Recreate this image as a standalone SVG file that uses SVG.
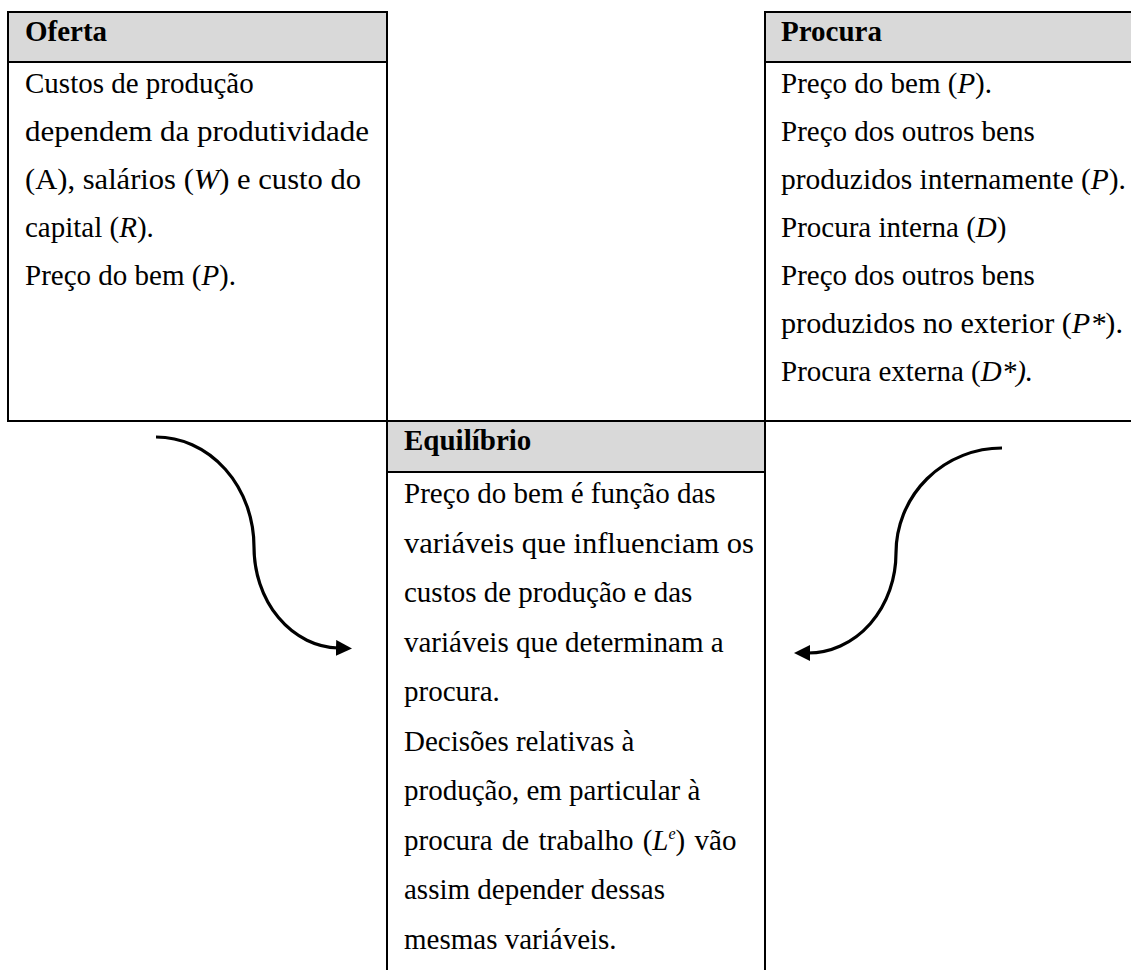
<svg xmlns="http://www.w3.org/2000/svg" width="1131" height="970" viewBox="0 0 1131 970">
  <style>
    .box { fill: #ffffff; stroke: #000000; stroke-width: 2; }
    .hdr { fill: #d9d9d9; stroke: #000000; stroke-width: 2; }
    .t { font-family: "Liberation Serif", "Times New Roman", serif; font-size: 29px; fill: #000000; }
    .b { font-weight: bold; }
    .i { font-style: italic; }
    .conn { fill: none; stroke: #000000; stroke-width: 3.2; }
  </style>
  <defs>
    <marker id="arrow" markerUnits="userSpaceOnUse" markerWidth="18" markerHeight="18" refX="2" refY="8" orient="auto">
      <path d="M0,0 L16,8 L0,16 Z" fill="#000000"/>
    </marker>
  </defs>
  <rect width="1131" height="970" fill="#ffffff"/>

  <g id="oferta">
    <rect class="box" x="8" y="62" width="379" height="359"/>
    <rect class="hdr" x="8" y="12" width="379" height="50"/>
    <text class="t b" x="25" y="41">Oferta</text>
    <text class="t" x="25" y="93">Custos de produção</text>
    <text class="t" x="25" y="141" textLength="344" lengthAdjust="spacingAndGlyphs">dependem da produtividade</text>
    <text class="t" x="25" y="189" textLength="336" lengthAdjust="spacingAndGlyphs">(A), salários (<tspan class="i">W</tspan>) e custo do</text>
    <text class="t" x="25" y="237">capital (<tspan class="i">R</tspan>).</text>
    <text class="t" x="25" y="285">Preço do bem (<tspan class="i">P</tspan>).</text>
  </g>

  <g id="procura">
    <rect class="box" x="765" y="62" width="380" height="359"/>
    <rect class="hdr" x="765" y="12" width="380" height="50"/>
    <text class="t b" x="781" y="41">Procura</text>
    <text class="t" x="781" y="93">Preço do bem (<tspan class="i">P</tspan>).</text>
    <text class="t" x="781" y="141">Preço dos outros bens</text>
    <text class="t" x="781" y="189" textLength="345" lengthAdjust="spacingAndGlyphs">produzidos internamente (<tspan class="i">P</tspan>).</text>
    <text class="t" x="781" y="237">Procura interna (<tspan class="i">D</tspan>)</text>
    <text class="t" x="781" y="285">Preço dos outros bens</text>
    <text class="t" x="781" y="333" textLength="342" lengthAdjust="spacingAndGlyphs">produzidos no exterior (<tspan class="i">P*</tspan>).</text>
    <text class="t" x="781" y="381">Procura externa (<tspan class="i">D*).</tspan></text>
  </g>

  <g id="equilibrio">
    <rect class="box" x="387" y="472" width="378" height="510"/>
    <rect class="hdr" x="387" y="421" width="378" height="51"/>
    <text class="t b" x="404" y="450">Equilíbrio</text>
    <text class="t" x="404" y="503">Preço do bem é função das</text>
    <text class="t" x="404" y="552.5" textLength="350" lengthAdjust="spacingAndGlyphs">variáveis que influenciam os</text>
    <text class="t" x="404" y="602">custos de produção e das</text>
    <text class="t" x="404" y="651.5">variáveis que determinam a</text>
    <text class="t" x="404" y="701">procura.</text>
    <text class="t" x="404" y="750.5">Decisões relativas à</text>
    <text class="t" x="404" y="800">produção, em particular à</text>
    <text class="t" x="404" y="849.5" word-spacing="2">procura de trabalho (<tspan class="i">L</tspan><tspan class="i" font-size="16" dy="-11">e</tspan><tspan dy="11">) vão</tspan></text>
    <text class="t" x="404" y="899">assim depender dessas</text>
    <text class="t" x="404" y="948.5">mesmas variáveis.</text>
  </g>

  <g id="connectors">
    <path class="conn" d="M156,437 A98,110 0 0 1 254,547 A86,101 0 0 0 338,648" marker-end="url(#arrow)"/>
    <path class="conn" d="M1002,448 A106,105 0 0 0 896,553 A88,100 0 0 1 808,653" marker-end="url(#arrow)"/>
  </g>
</svg>
